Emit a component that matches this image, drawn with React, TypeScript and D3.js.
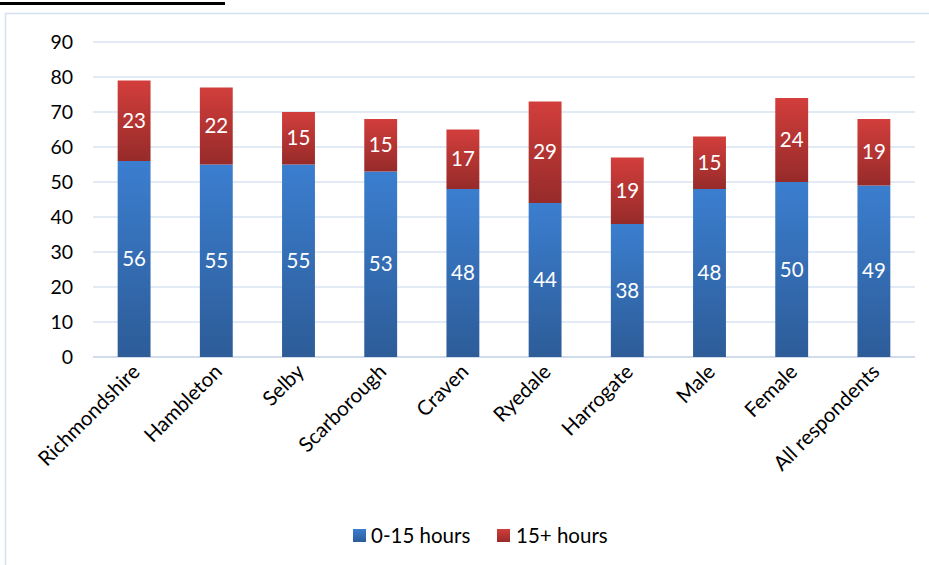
import React from "react";
import * as d3 from "d3";

const categories = [
  "Richmondshire",
  "Hambleton",
  "Selby",
  "Scarborough",
  "Craven",
  "Ryedale",
  "Harrogate",
  "Male",
  "Female",
  "All respondents",
];
const lowHours = [56, 55, 55, 53, 48, 44, 38, 48, 50, 49];
const highHours = [23, 22, 15, 15, 17, 29, 19, 15, 24, 19];
const seriesNames = ["0-15 hours", "15+ hours"];
const yTicks = [0, 10, 20, 30, 40, 50, 60, 70, 80, 90];

const W = 929;
const H = 565;
const FONT = "Lato, 'Open Sans', sans-serif";

export default function App() {
  const x = d3
    .scaleBand<string>()
    .domain(categories)
    .range([93, 915])
    .paddingInner(0.6)
    .paddingOuter(0.3);
  const y = d3.scaleLinear().domain([0, 90]).range([357, 42]);

  const rows = categories.map((c, i) => ({ cat: c, low: lowHours[i], high: highHours[i] }));
  const stack = d3.stack<any>().keys(["low", "high"])(rows);
  const fills = ["url(#gBlue)", "url(#gRed)"];

  return (
    <svg
      width={W}
      height={H}
      style={{ position: "absolute", left: 0, top: 0, background: "#fff" }}
      fontFamily={FONT}
    >
      <defs>
        <linearGradient id="gBlue" x1="0" y1="0" x2="0" y2="1">
          <stop offset="0" stopColor="#3B7ECF" />
          <stop offset="1" stopColor="#2D5C98" />
        </linearGradient>
        <linearGradient id="gRed" x1="0" y1="0" x2="0" y2="1">
          <stop offset="0" stopColor="#D23E3B" />
          <stop offset="1" stopColor="#962B2A" />
        </linearGradient>
      </defs>

      {/* header rule above the chart frame */}
      <line x1={0} x2={225} y1={3.5} y2={3.5} stroke="#000" strokeWidth={3} />

      {/* chart frame */}
      <rect x={5.5} y={13.5} width={W + 10} height={H + 10} fill="#fff" stroke="#D5E1F0" strokeWidth={1.5} />

      {/* gridlines */}
      {yTicks.map((t) => (
        <line
          key={t}
          x1={93}
          x2={915}
          y1={y(t)}
          y2={y(t)}
          stroke={t === 0 ? "#D0DCEC" : "#D9E4F2"}
          strokeWidth={t === 0 ? 2 : 1.5}
        />
      ))}

      {/* y tick labels */}
      {yTicks.map((t) => (
        <text key={t} x={73} y={y(t)} dy="0.35em" textAnchor="end" fontSize={19.5} fill="#000">
          {t}
        </text>
      ))}

      {/* stacked bars */}
      {stack.map((s, si) => (
        <g key={s.key}>
          {s.map((d, i) => {
            const x0 = x(categories[i])!;
            const top = y(d[1]);
            const bot = y(d[0]);
            return (
              <g key={i}>
                <rect x={x0} y={top} width={x.bandwidth()} height={bot - top} fill={fills[si]} />
                <text
                  x={x0 + x.bandwidth() / 2}
                  y={(top + bot) / 2}
                  dy="0.35em"
                  textAnchor="middle"
                  fontSize={20.5}
                  fill="#fff"
                >
                  {d[1] - d[0]}
                </text>
              </g>
            );
          })}
        </g>
      ))}

      {/* category labels */}
      {categories.map((c) => {
        const cx = x(c)! + x.bandwidth() / 2 + 7;
        return (
          <text
            key={c}
            transform={`translate(${cx},${373}) rotate(-45)`}
            textAnchor="end"
            fontSize={20.5}
            fill="#000"
          >
            {c}
          </text>
        );
      })}

      {/* legend */}
      <rect x={353} y={529} width={13} height={13} fill="url(#gBlue)" />
      <text x={371} y={536} dy="0.35em" fontSize={20.5} fill="#000">
        {seriesNames[0]}
      </text>
      <rect x={497} y={529} width={13} height={13} fill="url(#gRed)" />
      <text x={516} y={536} dy="0.35em" fontSize={20.5} fill="#000">
        {seriesNames[1]}
      </text>
    </svg>
  );
}
